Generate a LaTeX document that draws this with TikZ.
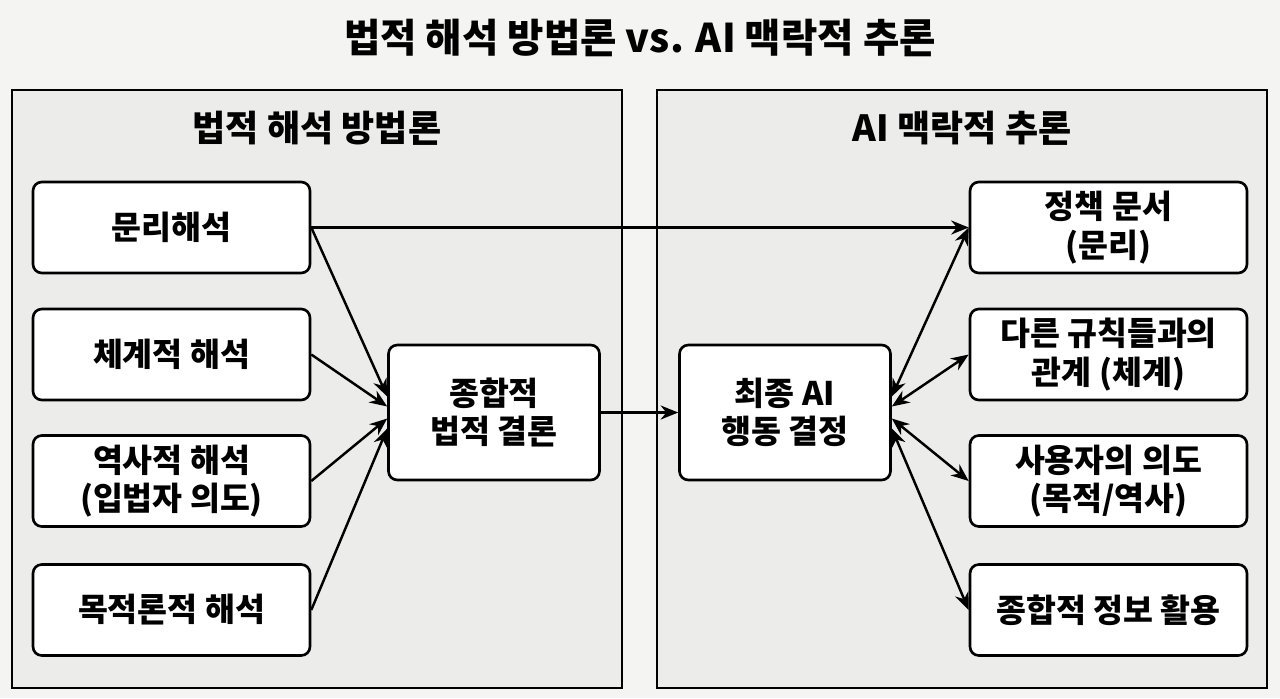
\documentclass[tikz,border=0pt]{standalone}
\usepackage{fontspec}
\setmainfont{Noto Sans CJK KR}
\usetikzlibrary{arrows.meta}
\definecolor{pagebg}{HTML}{F4F4F2}
\definecolor{panelbg}{HTML}{ECECEB}
\tikzset{
  panel/.style={draw,line width=1.5pt,fill=panelbg,minimum width=12.2cm,minimum height=11.96cm,inner sep=0},
  box/.style={draw,line width=1.5pt,fill=white,rounded corners=5pt,minimum width=5.54cm,minimum height=1.82cm,align=center,font=\fontsize{18.5}{22}\selectfont\bfseries},
  bigbox/.style={box,minimum width=4.22cm,minimum height=2.7cm},
  arr/.style={line width=1.4pt,-{Stealth[length=10pt,width=8pt]}},
  darr/.style={line width=1.4pt,{Stealth[length=10pt,width=8pt]}-{Stealth[length=10pt,width=8pt]}}
}
\begin{document}
\begin{tikzpicture}[x=0.02cm,y=-0.02cm]
    \fill[pagebg] (0,0) rectangle (1280,698);
    \useasboundingbox (0,0) rectangle (1280,698);
    \path (640,38) node[font=\fontsize{22.5}{26}\selectfont\bfseries](title){법적 해석 방법론 vs. AI 맥락적 추론};
    % two panels
    \path (317,389) node[panel](legal){} (962,389) node[panel](ai){};
    \path[font=\fontsize{20.5}{24}\selectfont\bfseries] (317,128) node(legalT){법적 해석 방법론} (962,128) node(aiT){AI 맥락적 추론};
    % left side
    \path (171.5,227.5) node[box](lit){문리해석}
          (171.5,354.5) node[box](sys){체계적 해석}
          (171.5,481) node[box](hist){역사적 해석\\(입법자 의도)}
          (171.5,610) node[box](tel){목적론적 해석};
    \path (494,412.5) node[bigbox](concl){종합적\\법적 결론};
    % right side
    \path (785,412.5) node[bigbox](act){최종 AI\\행동 결정};
    \path (1108.5,227.5) node[box](pol){정책 문서\\(문리)}
          (1108.5,354.5) node[box](rules){다른 규칙들과의\\관계 (체계)}
          (1108.5,481) node[box](user){사용자의 의도\\(목적/역사)}
          (1108.5,610) node[box](info){종합적 정보 활용};
    \draw[arr] (lit) -- (pol);
    \draw[arr] (lit.east) -- ([yshift=0.32cm]concl.west);
    \draw[arr] (sys.east) -- ([yshift=0.12cm]concl.west);
    \draw[arr] (hist.east) -- ([yshift=-0.12cm]concl.west);
    \draw[arr] (tel.east) -- ([yshift=-0.32cm]concl.west);
    \draw[arr] (concl) -- (act);
    \draw[darr] ([yshift=0.32cm]act.east) -- (pol.west);
    \draw[darr] ([yshift=0.12cm]act.east) -- (rules.west);
    \draw[darr] ([yshift=-0.12cm]act.east) -- (user.west);
    \draw[darr] ([yshift=-0.32cm]act.east) -- (info.west);

  \end{tikzpicture}
\end{document}
